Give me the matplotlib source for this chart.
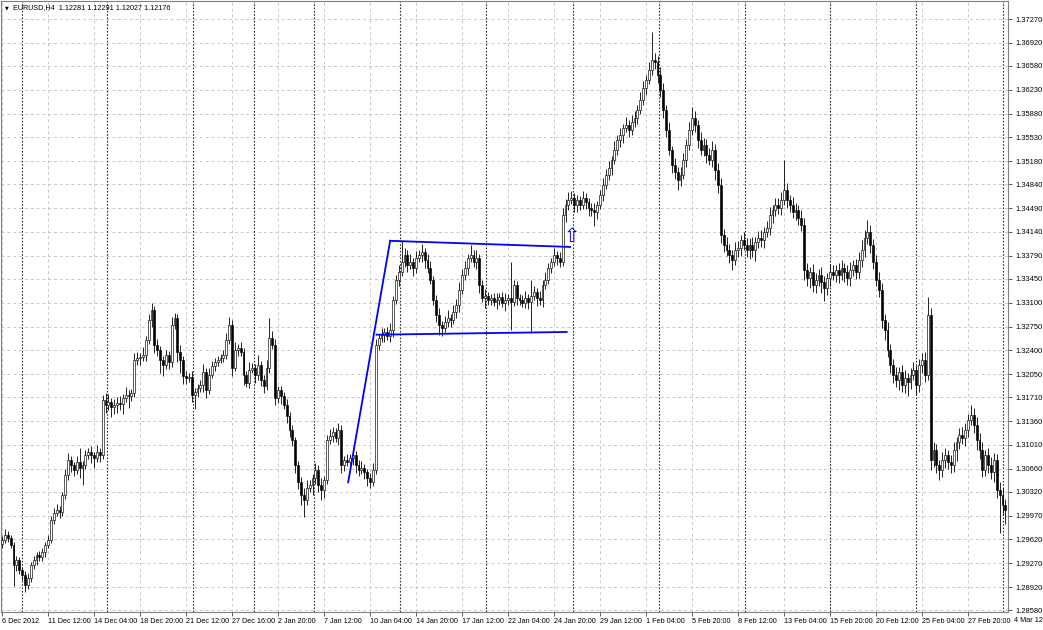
import matplotlib.pyplot as plt
import matplotlib.transforms as mtransforms
import numpy as np

# EURUSD H4 candles, prices
opens = [
    1.2955, 1.2961, 1.2969, 1.2964, 1.2954, 1.2924, 1.2932, 1.2917, 1.2910, 1.2895,
    1.2905, 1.2924, 1.2932, 1.2939, 1.2936, 1.2944, 1.2954, 1.2961, 1.2991, 1.3001,
    1.3005, 1.3002, 1.3027, 1.3057, 1.3079, 1.3071, 1.3064, 1.3076, 1.3067, 1.3071,
    1.3086, 1.3091, 1.3086, 1.3082, 1.3091, 1.3086, 1.3167, 1.3160, 1.3164, 1.3157,
    1.3160, 1.3163, 1.3161, 1.3170, 1.3174, 1.3173, 1.3177, 1.3226, 1.3229, 1.3230,
    1.3233, 1.3255, 1.3285, 1.3299, 1.3248, 1.3240, 1.3226, 1.3218, 1.3233, 1.3223,
    1.3277, 1.3287, 1.3238, 1.3226, 1.3202, 1.3199, 1.3201, 1.3174, 1.3179, 1.3185,
    1.3189, 1.3208, 1.3182, 1.3204, 1.3217, 1.3223, 1.3226, 1.3229, 1.3233, 1.3255,
    1.3277, 1.3214, 1.3240, 1.3243, 1.3238, 1.3204, 1.3192, 1.3211, 1.3214, 1.3204,
    1.3218, 1.3196, 1.3188, 1.3214, 1.3258, 1.3248, 1.3170, 1.3182, 1.3173, 1.3160,
    1.3143, 1.3123, 1.3108, 1.3071, 1.3046, 1.3027, 1.3020, 1.3038, 1.3042, 1.3052,
    1.3064, 1.3042, 1.3035, 1.3049, 1.3108, 1.3114, 1.3120, 1.3111, 1.3123, 1.3071,
    1.3079, 1.3076, 1.3082, 1.3086, 1.3071, 1.3064, 1.3067, 1.3061, 1.3052, 1.3046,
    1.3064, 1.3248, 1.3258, 1.3263, 1.3267, 1.3261, 1.3270, 1.3314, 1.3343, 1.3355,
    1.3370, 1.3380, 1.3365, 1.3370, 1.3361, 1.3376, 1.3380, 1.3385, 1.3373, 1.3361,
    1.3343, 1.3314, 1.3292, 1.3277, 1.3273, 1.3282, 1.3287, 1.3285, 1.3296, 1.3307,
    1.3329, 1.3351, 1.3361, 1.3376, 1.3380, 1.3370, 1.3376, 1.3336, 1.3317, 1.3320,
    1.3314, 1.3317, 1.3311, 1.3314, 1.3318, 1.3310, 1.3314, 1.3317, 1.3311, 1.3336,
    1.3317, 1.3314, 1.3310, 1.3317, 1.3311, 1.3320, 1.3326, 1.3317, 1.3314, 1.3336,
    1.3343, 1.3361, 1.3370, 1.3380, 1.3376, 1.3370, 1.3439, 1.3454, 1.3461, 1.3464,
    1.3454, 1.3461, 1.3454, 1.3464, 1.3458, 1.3449, 1.3446, 1.3443, 1.3454, 1.3468,
    1.3483, 1.3498, 1.3508, 1.3520, 1.3535, 1.3549, 1.3557, 1.3567, 1.3571, 1.3564,
    1.3576, 1.3582, 1.3593, 1.3608, 1.3626, 1.3637, 1.3652, 1.3667, 1.3664, 1.3645,
    1.3623, 1.3593, 1.3564, 1.3535, 1.3512, 1.3502, 1.3490, 1.3498, 1.3520, 1.3542,
    1.3564, 1.3582, 1.3571, 1.3549, 1.3535, 1.3542, 1.3527, 1.3520, 1.3535, 1.3505,
    1.3483, 1.3410, 1.3395, 1.3387, 1.3380, 1.3373, 1.3387, 1.3390, 1.3402, 1.3395,
    1.3387, 1.3395, 1.3387, 1.3399, 1.3405, 1.3402, 1.3414, 1.3420, 1.3439, 1.3446,
    1.3454, 1.3449, 1.3461, 1.3476, 1.3461, 1.3454, 1.3443, 1.3446, 1.3434, 1.3424,
    1.3358, 1.3346, 1.3355, 1.3336, 1.3343, 1.3351, 1.3340, 1.3332, 1.3346, 1.3355,
    1.3351, 1.3358, 1.3351, 1.3361, 1.3355, 1.3346, 1.3358, 1.3365, 1.3355, 1.3373,
    1.3387, 1.3405, 1.3414, 1.3395, 1.3370, 1.3343, 1.3329, 1.3285, 1.3270, 1.3240,
    1.3218, 1.3204, 1.3196, 1.3208, 1.3189, 1.3199, 1.3193, 1.3204, 1.3211, 1.3189,
    1.3218, 1.3226, 1.3204, 1.3292, 1.3079, 1.3093, 1.3071, 1.3064, 1.3079, 1.3086,
    1.3076, 1.3071, 1.3093, 1.3105, 1.3116, 1.3111, 1.3123, 1.3138, 1.3145, 1.3130,
    1.3108, 1.3093, 1.3064, 1.3086, 1.3071, 1.3061, 1.3079, 1.3035, 1.3027, 1.3013,
]
closes = [
    1.2961, 1.2969, 1.2964, 1.2954, 1.2924, 1.2932, 1.2917, 1.2910, 1.2895, 1.2905,
    1.2924, 1.2932, 1.2939, 1.2936, 1.2944, 1.2954, 1.2961, 1.2991, 1.3001, 1.3005,
    1.3002, 1.3027, 1.3057, 1.3079, 1.3071, 1.3064, 1.3076, 1.3067, 1.3071, 1.3086,
    1.3091, 1.3086, 1.3082, 1.3091, 1.3086, 1.3167, 1.3160, 1.3164, 1.3157, 1.3160,
    1.3163, 1.3161, 1.3170, 1.3174, 1.3173, 1.3177, 1.3226, 1.3229, 1.3230, 1.3233,
    1.3255, 1.3285, 1.3299, 1.3248, 1.3240, 1.3226, 1.3218, 1.3233, 1.3223, 1.3277,
    1.3287, 1.3238, 1.3226, 1.3202, 1.3199, 1.3201, 1.3174, 1.3179, 1.3185, 1.3189,
    1.3208, 1.3182, 1.3204, 1.3217, 1.3223, 1.3226, 1.3229, 1.3233, 1.3255, 1.3277,
    1.3214, 1.3240, 1.3243, 1.3238, 1.3204, 1.3192, 1.3211, 1.3214, 1.3204, 1.3218,
    1.3196, 1.3188, 1.3214, 1.3258, 1.3248, 1.3170, 1.3182, 1.3173, 1.3160, 1.3143,
    1.3123, 1.3108, 1.3071, 1.3046, 1.3027, 1.3020, 1.3038, 1.3042, 1.3052, 1.3064,
    1.3042, 1.3035, 1.3049, 1.3108, 1.3114, 1.3120, 1.3111, 1.3123, 1.3071, 1.3079,
    1.3076, 1.3082, 1.3086, 1.3071, 1.3064, 1.3067, 1.3061, 1.3052, 1.3046, 1.3064,
    1.3248, 1.3258, 1.3263, 1.3267, 1.3261, 1.3270, 1.3314, 1.3343, 1.3355, 1.3370,
    1.3380, 1.3365, 1.3370, 1.3361, 1.3376, 1.3380, 1.3385, 1.3373, 1.3361, 1.3343,
    1.3314, 1.3292, 1.3277, 1.3273, 1.3282, 1.3287, 1.3285, 1.3296, 1.3307, 1.3329,
    1.3351, 1.3361, 1.3376, 1.3380, 1.3370, 1.3376, 1.3336, 1.3317, 1.3320, 1.3314,
    1.3317, 1.3311, 1.3314, 1.3318, 1.3310, 1.3314, 1.3317, 1.3311, 1.3336, 1.3317,
    1.3314, 1.3310, 1.3317, 1.3311, 1.3320, 1.3326, 1.3317, 1.3314, 1.3336, 1.3343,
    1.3361, 1.3370, 1.3380, 1.3376, 1.3370, 1.3439, 1.3454, 1.3461, 1.3464, 1.3454,
    1.3461, 1.3454, 1.3464, 1.3458, 1.3449, 1.3446, 1.3443, 1.3454, 1.3468, 1.3483,
    1.3498, 1.3508, 1.3520, 1.3535, 1.3549, 1.3557, 1.3567, 1.3571, 1.3564, 1.3576,
    1.3582, 1.3593, 1.3608, 1.3626, 1.3637, 1.3652, 1.3667, 1.3664, 1.3645, 1.3623,
    1.3593, 1.3564, 1.3535, 1.3512, 1.3502, 1.3490, 1.3498, 1.3520, 1.3542, 1.3564,
    1.3582, 1.3571, 1.3549, 1.3535, 1.3542, 1.3527, 1.3520, 1.3535, 1.3505, 1.3483,
    1.3410, 1.3395, 1.3387, 1.3380, 1.3373, 1.3387, 1.3390, 1.3402, 1.3395, 1.3387,
    1.3395, 1.3387, 1.3399, 1.3405, 1.3402, 1.3414, 1.3420, 1.3439, 1.3446, 1.3454,
    1.3449, 1.3461, 1.3476, 1.3461, 1.3454, 1.3443, 1.3446, 1.3434, 1.3424, 1.3358,
    1.3346, 1.3355, 1.3336, 1.3343, 1.3351, 1.3340, 1.3332, 1.3346, 1.3355, 1.3351,
    1.3358, 1.3351, 1.3361, 1.3355, 1.3346, 1.3358, 1.3365, 1.3355, 1.3373, 1.3387,
    1.3405, 1.3414, 1.3395, 1.3370, 1.3343, 1.3329, 1.3285, 1.3270, 1.3240, 1.3218,
    1.3204, 1.3196, 1.3208, 1.3189, 1.3199, 1.3193, 1.3204, 1.3211, 1.3189, 1.3218,
    1.3226, 1.3204, 1.3292, 1.3079, 1.3093, 1.3071, 1.3064, 1.3079, 1.3086, 1.3076,
    1.3071, 1.3093, 1.3105, 1.3116, 1.3111, 1.3123, 1.3138, 1.3145, 1.3130, 1.3108,
    1.3093, 1.3064, 1.3086, 1.3071, 1.3061, 1.3079, 1.3035, 1.3027, 1.3013, 1.3005,
]
# wick lengths above / below the body, in pips
upper_wick = [
    6, 8, 5, 4, 5, 6, 4, 5, 6, 8,
    5, 6, 4, 6, 5, 4, 8, 6, 7, 9,
    6, 5, 8, 10, 6, 5, 8, 20, 6, 7,
    6, 8, 5, 10, 6, 8, 10, 12, 6, 8,
    8, 10, 6, 12, 8, 6, 10, 8, 6, 12,
    6, 8, 10, 6, 8, 6, 5, 8, 6, 12,
    8, 6, 10, 6, 8, 5, 8, 6, 5, 8,
    12, 6, 10, 8, 6, 5, 6, 8, 10, 12,
    8, 12, 6, 10, 5, 6, 12, 8, 6, 15,
    6, 8, 12, 30, 10, 8, 6, 5, 6, 8,
    6, 8, 5, 6, 8, 10, 12, 8, 6, 10,
    8, 10, 6, 8, 10, 8, 6, 10, 8, 6,
    8, 6, 12, 6, 8, 10, 6, 5, 8, 10,
    8, 6, 10, 6, 8, 10, 6, 8, 10, 30,
    10, 8, 12, 6, 10, 8, 12, 6, 8, 10,
    6, 8, 10, 6, 8, 12, 6, 10, 8, 12,
    8, 10, 6, 15, 8, 12, 6, 8, 10, 6,
    6, 8, 10, 6, 8, 10, 6, 53, 8, 6,
    6, 8, 10, 6, 23, 8, 6, 10, 8, 12,
    8, 6, 10, 6, 8, 10, 8, 12, 10, 8,
    8, 6, 10, 8, 6, 8, 10, 6, 8, 10,
    8, 10, 6, 12, 8, 10, 6, 12, 8, 10,
    10, 8, 12, 10, 8, 12, 41, 10, 8, 12,
    10, 8, 12, 6, 10, 8, 12, 10, 8, 12,
    15, 10, 8, 12, 10, 8, 10, 12, 8, 10,
    10, 8, 12, 10, 8, 12, 10, 8, 12, 10,
    10, 12, 8, 10, 12, 8, 10, 12, 8, 10,
    10, 12, 44, 10, 8, 12, 10, 8, 12, 10,
    10, 8, 12, 10, 8, 12, 10, 8, 12, 10,
    8, 10, 12, 8, 10, 12, 8, 10, 12, 15,
    12, 18, 10, 8, 10, 12, 10, 8, 12, 10,
    10, 12, 8, 10, 12, 8, 10, 12, 8, 10,
    10, 12, 26, 10, 12, 10, 8, 12, 10, 8,
    10, 12, 8, 10, 12, 10, 8, 15, 10, 12,
    10, 12, 8, 10, 12, 10, 8, 12, 10, 8,
]
lower_wick = [
    5, 4, 6, 5, 30, 8, 6, 8, 10, 6,
    6, 5, 7, 5, 6, 8, 5, 4, 6, 5,
    8, 6, 5, 7, 10, 8, 6, 14, 25, 6,
    5, 12, 15, 6, 10, 6, 12, 8, 15, 10,
    12, 8, 15, 6, 18, 8, 6, 8, 10, 6,
    8, 6, 10, 12, 8, 20, 15, 6, 10, 8,
    6, 15, 20, 12, 8, 6, 10, 20, 8, 6,
    10, 12, 6, 5, 8, 6, 5, 6, 5, 6,
    12, 5, 8, 6, 15, 6, 8, 5, 12, 8,
    8, 10, 6, 8, 6, 10, 8, 12, 6, 10,
    10, 8, 12, 10, 15, 25, 8, 6, 15, 8,
    10, 15, 12, 6, 5, 8, 6, 10, 12, 8,
    6, 8, 10, 12, 8, 6, 10, 12, 8, 6,
    6, 8, 5, 10, 6, 8, 10, 6, 8, 6,
    8, 10, 6, 12, 8, 6, 10, 12, 8, 6,
    8, 10, 15, 12, 6, 8, 10, 6, 8, 10,
    6, 8, 10, 6, 8, 10, 12, 6, 15, 8,
    8, 6, 10, 8, 6, 12, 8, 41, 6, 10,
    8, 6, 8, 10, 46, 6, 12, 8, 10, 6,
    6, 8, 6, 10, 8, 6, 10, 8, 6, 10,
    10, 8, 6, 10, 12, 8, 20, 10, 6, 8,
    6, 8, 10, 6, 8, 10, 12, 6, 10, 8,
    8, 10, 6, 8, 10, 6, 8, 10, 12, 10,
    12, 10, 8, 12, 10, 15, 8, 6, 10, 8,
    8, 10, 12, 8, 10, 12, 8, 10, 15, 12,
    12, 10, 8, 12, 15, 8, 10, 12, 8, 10,
    12, 10, 15, 8, 10, 12, 8, 10, 12, 8,
    8, 10, 8, 12, 10, 8, 12, 10, 8, 15,
    12, 15, 10, 12, 8, 15, 20, 10, 12, 8,
    10, 12, 8, 15, 10, 12, 8, 10, 8, 10,
    10, 8, 12, 10, 8, 10, 12, 15, 10, 12,
    12, 10, 15, 10, 12, 20, 10, 8, 15, 10,
    12, 10, 8, 15, 10, 12, 15, 10, 12, 10,
    12, 10, 15, 10, 8, 12, 10, 8, 12, 15,
    12, 10, 8, 12, 10, 15, 12, 55, 15, 20,
]

price_ticks = [
    "1.37270", "1.36920", "1.36580", "1.36230", "1.35880", "1.35530", "1.35180",
    "1.34840", "1.34490", "1.34140", "1.33790", "1.33450", "1.33100", "1.32750",
    "1.32400", "1.32050", "1.31710", "1.31360", "1.31010", "1.30660", "1.30320",
    "1.29970", "1.29620", "1.29270", "1.28920", "1.28580",
]
time_labels = [
    "6 Dec 2012", "11 Dec 12:00", "14 Dec 04:00", "18 Dec 20:00", "21 Dec 12:00",
    "27 Dec 16:00", "2 Jan 20:00", "7 Jan 12:00", "10 Jan 04:00", "14 Jan 20:00",
    "17 Jan 12:00", "22 Jan 04:00", "24 Jan 20:00", "29 Jan 12:00", "1 Feb 04:00",
    "5 Feb 20:00", "8 Feb 12:00", "13 Feb 04:00", "15 Feb 20:00", "20 Feb 12:00",
    "25 Feb 04:00", "27 Feb 20:00", "4 Mar 12:00",
]
label_step = 16  # bars between time labels
week_starts = [7, 36.5, 66.5, 87.5, 108.5, 138.5, 168.5, 198.5, 228.5, 258.5, 288, 318, 348]

# flag pattern drawn on the chart (bar index, price)
pole_bars, pole_prices = [120.4, 135.0], [1.3046, 1.3401]
top_bars, top_prices = [135.0, 197.6], [1.3401, 1.3392]
bottom_bars, bottom_prices = [130.3, 196.4], [1.3263, 1.3267]
signal_bar, signal_price = 198.3, 1.3408

header = "EURUSD,H4  1.12281 1.12291 1.12027 1.12176"

plt.rcParams["font.family"] = ["Liberation Sans", "DejaVu Sans"]

pip = 0.0001
o = np.array(opens)
c = np.array(closes)
hi = np.maximum(o, c) + np.array(upper_wick) * pip
lo = np.minimum(o, c) - np.array(lower_wick) * pip
bars = np.arange(len(c))
bull = c >= o
body_low = np.minimum(o, c)
body_h = np.maximum(np.abs(c - o), 0.00006)

fig = plt.figure(figsize=(10.43, 6.30), dpi=100)
ax = fig.add_axes([1 / 1043, 18 / 630, 1007 / 1043, 611 / 630])

# grid and week separators
for t in price_ticks:
    ax.axhline(float(t), color="#c8c8c8", lw=0.7, ls=(0, (3, 3)), zorder=1)
label_bars = [i * label_step for i in range(len(time_labels))]
for b in label_bars:
    ax.axvline(b, color="#c8c8c8", lw=0.7, ls=(0, (3, 3)), zorder=1)
for b in week_starts:
    ax.axvline(b, color="#303030", lw=0.8, ls=(0, (1.5, 1.5)), zorder=1)

# candles
ax.vlines(bars, lo, hi, color="black", lw=0.6, zorder=3)
ax.bar(bars[bull], body_h[bull], bottom=body_low[bull], width=0.66,
       color="white", edgecolor="black", lw=0.45, zorder=4)
ax.bar(bars[~bull], body_h[~bull], bottom=body_low[~bull], width=0.66,
       color="black", edgecolor="black", lw=0.45, zorder=4)

# flag
ax.plot(pole_bars, pole_prices, color="#0000ff", lw=1.3, zorder=5)
ax.plot(top_bars, top_prices, color="#0000ff", lw=1.3, zorder=5)
ax.plot(bottom_bars, bottom_prices, color="#0000ff", lw=1.3, zorder=5)
ax.text(signal_bar, signal_price, "\u21e7", color="#0000ff", fontsize=14,
        ha="center", va="center", family=["DejaVu Sans"], zorder=6)

ax.set_xlim(-0.35, 349.9)
ax.set_ylim(1.28554, 1.37535)

ax.yaxis.tick_right()
ax.set_yticks([float(t) for t in price_ticks], price_ticks)
ax.tick_params(axis="y", direction="out", length=3, width=0.6, colors="#404040",
               labelsize=5.4, pad=2, labelcolor="black")

ax.set_xticks(label_bars[:-1], time_labels[:-1])
ax.tick_params(axis="x", direction="out", length=3, width=0.6, colors="#404040",
               labelsize=5.2, pad=1, labelcolor="black")
for lbl in ax.get_xticklabels():
    lbl.set_ha("left")
trans = mtransforms.blended_transform_factory(ax.transData, ax.transAxes)
ax.text(label_bars[-1], -0.008, time_labels[-1], transform=trans, fontsize=5.2,
        ha="left", va="top", clip_on=False)

for s in ax.spines.values():
    s.set_color("#808080")
    s.set_linewidth(0.8)

fig.text(5 / 1043, 1 - 8 / 630, "\u25bc", fontsize=3.5, va="center", ha="left",
         family=["DejaVu Sans"])
fig.text(13 / 1043, 1 - 8 / 630, header, fontsize=5.2, va="center", ha="left")

fig.savefig("out.png", dpi=100)
